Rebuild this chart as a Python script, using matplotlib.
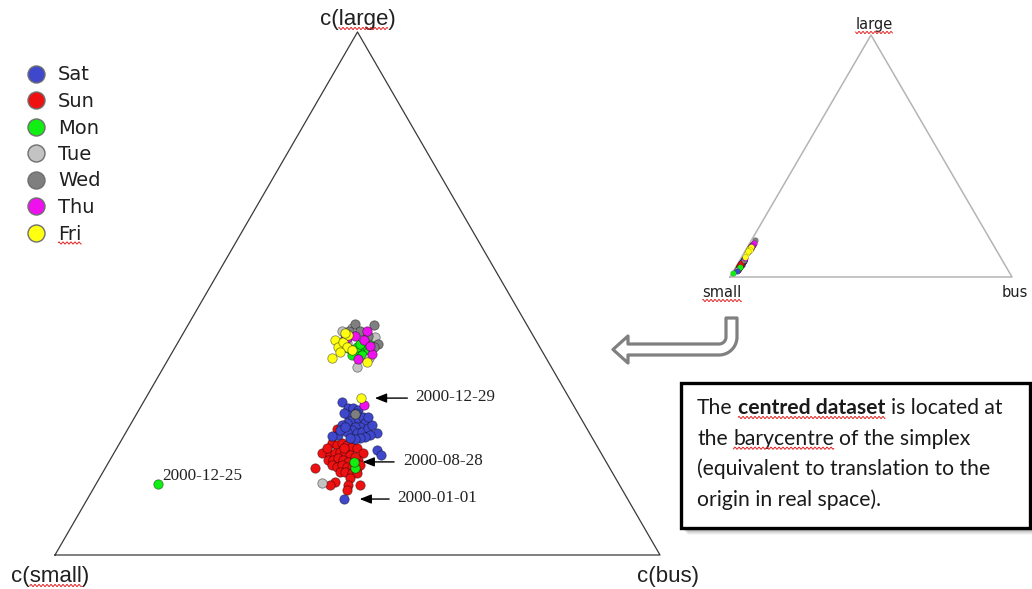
import numpy as np
import matplotlib
matplotlib.use("Agg")
import matplotlib.pyplot as plt
from matplotlib.patches import Rectangle, PathPatch, FancyArrowPatch
from matplotlib.path import Path
from matplotlib.font_manager import FontProperties

# ---------------------------------------------------------------
# Centred daily compositions (small, bus, large), in percent
# ---------------------------------------------------------------
days = ["Sat", "Sun", "Mon", "Tue", "Wed", "Thu", "Fri"]
day_colors = ["#3f48cc", "#ee1111", "#11ee11", "#c3c3c3", "#7f7f7f", "#ee11ee", "#ffff11"]

sat = [(37.9, 32.8, 29.3), (37.5, 34.4, 28.1), (36.7, 35.2, 28.1), (36.1, 36.2, 27.7),
       (38.2, 35.0, 26.8), (38.0, 36.2, 25.8), (39.1, 35.6, 25.2), (40.1, 35.0, 24.9),
       (36.8, 37.0, 26.2), (35.9, 37.7, 26.4), (36.1, 38.6, 25.2), (37.4, 38.2, 24.5),
       (38.2, 37.3, 24.5), (39.0, 37.1, 23.9), (40.0, 36.5, 23.5), (38.4, 38.3, 23.3),
       (37.5, 39.0, 23.5), (36.1, 39.6, 24.3), (35.2, 40.0, 24.8), (35.1, 41.6, 23.3),
       (36.5, 40.6, 22.9), (37.5, 40.0, 22.5), (41.8, 35.3, 22.9), (42.8, 34.4, 22.8),
       (40.9, 35.2, 23.9), (39.8, 35.7, 24.5), (38.4, 39.2, 22.4), (39.3, 38.5, 22.2),
       (40.1, 37.6, 22.4), (35.1, 38.5, 26.4), (36.7, 43.2, 20.1), (36.6, 44.3, 19.1),
       (38.7, 34.2, 27.1), (36.7, 36.2, 27.1)]

sun = [(43.5, 35.1, 21.4), (42.9, 36.1, 21.0), (41.9, 36.7, 21.4), (41.2, 37.7, 21.0),
       (40.6, 38.8, 20.6), (39.9, 39.7, 20.5), (39.3, 41.2, 19.5), (46.1, 34.4, 19.5),
       (45.0, 35.9, 19.1), (44.0, 36.5, 19.5), (43.0, 37.3, 19.7), (42.3, 38.2, 19.5),
       (41.7, 39.2, 19.1), (45.8, 36.0, 18.2), (45.0, 36.9, 18.2), (43.9, 37.5, 18.6),
       (43.3, 38.5, 18.2), (42.7, 39.5, 17.8), (40.8, 41.0, 18.2), (45.6, 37.2, 17.2),
       (45.0, 38.2, 16.8), (44.0, 38.8, 17.2), (43.3, 39.8, 16.8), (42.5, 40.7, 16.8),
       (41.8, 41.6, 16.6), (41.0, 41.8, 17.2), (48.7, 34.7, 16.6), (45.0, 39.2, 15.9),
       (44.1, 40.0, 15.9), (43.1, 41.3, 15.7), (42.2, 42.1, 15.7), (43.9, 41.4, 14.7),
       (46.7, 39.3, 14.0), (47.9, 38.8, 13.4), (44.9, 41.7, 13.4), (42.9, 43.7, 13.4),
       (45.5, 42.0, 12.4), (41.3, 34.6, 24.1), (44.8, 34.7, 20.5), (41.0, 40.2, 18.7),
       (42.0, 37.5, 20.5)]

mon = [(31.8, 28.6, 39.6), (31.1, 29.7, 39.2), (30.5, 30.7, 38.8), (29.3, 31.1, 39.6),
       (28.6, 31.7, 39.8), (30.2, 30.0, 39.8), (28.9, 32.3, 38.8), (30.1, 31.6, 38.3),
       (31.8, 29.9, 38.3), (28.4, 30.9, 40.7), (27.4, 32.1, 40.5), (29.4, 30.2, 40.3),
       (42.1, 41.3, 16.7)]

tue = [(29.2, 27.4, 43.4), (32.1, 32.0, 35.9), (26.3, 32.1, 41.7), (31.1, 26.0, 42.8),
       (28.4, 29.9, 41.7), (29.3, 33.1, 37.7), (31.5, 28.0, 40.5), (49.0, 37.3, 13.8)]

wed = [(28.3, 27.5, 44.2), (25.3, 30.7, 44.0), (26.4, 33.2, 40.3), (27.4, 32.8, 39.8),
       (28.2, 29.0, 42.8), (30.0, 27.2, 42.8), (27.3, 30.8, 41.9), (31.3, 27.2, 41.5),
       (36.9, 36.1, 27.0)]

thu = [(31.0, 27.5, 41.5), (27.0, 30.2, 42.8), (31.2, 31.3, 37.5), (28.4, 33.2, 38.4),
       (28.4, 30.5, 41.1), (29.5, 28.7, 41.9), (28.0, 32.1, 40.0), (34.6, 36.7, 28.7)]

fri = [(33.2, 25.7, 41.1), (33.3, 26.9, 39.8), (32.0, 27.2, 40.7), (30.5, 27.4, 42.1),
       (35.4, 27.0, 37.7), (31.9, 28.4, 39.8), (31.3, 29.5, 39.2), (30.8, 26.7, 42.5),
       (30.0, 33.1, 36.9), (33.5, 27.7, 38.8)]

# Individually labelled days
marked_dates = ["2000-12-29", "2000-08-28", "2000-01-01", "2000-12-25"]
marked_days = ["Fri", "Mon", "Sat", "Mon"]
marked_comp = [(34.4, 35.6, 30.0), (41.7, 40.5, 17.8), (46.9, 42.4, 10.7), (76.2, 10.2, 13.6)]

# Centre of the raw data (small, bus, large), percent
raw_centre = [89.4, 1.3, 9.3]

# ---------------------------------------------------------------
def closure(a):
    a = np.asarray(a, dtype=float)
    return a / a.sum(axis=-1, keepdims=True)


def tern_xy(comp, origin, width, height):
    c = closure(comp)
    b, l = c[..., 1], c[..., 2]
    return origin[0] + width * (b + l / 2.0), origin[1] - height * l


MAIN = dict(origin=(55, 555), width=605, height=523)
INSET = dict(origin=(730, 277), width=282, height=242)

groups = dict(zip(days, [sat, sun, mon, tue, wed, thu, fri]))
color_of = dict(zip(days, day_colors))

fig = plt.figure(figsize=(10.32, 5.89), dpi=100)
ax = fig.add_axes([0, 0, 1, 1])
ax.set_xlim(0, 1032)
ax.set_ylim(589, 0)
ax.axis("off")
renderer = fig.canvas.get_renderer()

sans = "Liberation Sans"
vertices = np.eye(3)
edge_dark = (0, 0, 0, 0.45)


def text_w(s, fp):
    w, h, d = renderer.get_text_width_height_descent(s, fp, ismath=False)
    return w


def squiggle(x0, x1, y):
    xs = np.linspace(x0, x1, max(int((x1 - x0) * 3), 2))
    ys = y + 1.0 * np.sin(xs * np.pi / 2.0)
    ax.plot(xs, ys, color="#e02020", lw=0.7, solid_capstyle="butt", zorder=6)


def label_with_squiggle(x, y, prefix, word, suffix, fp, ha="center"):
    full = prefix + word + suffix
    ax.text(x, y, full, fontproperties=fp, ha=ha, va="baseline", color="#202020", zorder=6)
    wf = text_w(full, fp)
    left = x - wf / 2 if ha == "center" else x
    x0 = left + (text_w(prefix, fp) if prefix else 0)
    squiggle(x0, x0 + text_w(word, fp), y + 3.5)


# ---------------- main (centred) ternary ----------------
tx, ty = tern_xy(vertices, **MAIN)
ax.plot(np.r_[tx, tx[0]], np.r_[ty, ty[0]], color="#3a3a3a", lw=0.9, zorder=2)

fp_axis = FontProperties(family=sans, size=16)
label_with_squiggle(tx[2], 25, "c(", "large", ")", fp_axis)
label_with_squiggle(tx[0] - 5, 582, "c(", "small", ")", fp_axis)
ax.text(tx[1] + 8, 582, "c(bus)", fontproperties=fp_axis, ha="center", va="baseline", color="#202020")

main_size = 46
for d in ["Sun", "Sat", "Mon", "Tue", "Wed", "Thu", "Fri"]:
    px, py = tern_xy(groups[d], **MAIN)
    ax.scatter(px, py, s=main_size, c=color_of[d], edgecolors=edge_dark, linewidths=0.6, zorder=4)

mx, my = tern_xy(marked_comp, **MAIN)
for i, d in enumerate(marked_days):
    ax.scatter(mx[i], my[i], s=main_size, c=color_of[d], edgecolors=edge_dark, linewidths=0.6, zorder=5)

fp_date = FontProperties(family="Liberation Serif", size=12.3)
# (arrow tip offset, arrow tail offset, text offset) in pixels from each mark
arrow_offsets = {"2000-12-29": (11, 49, 54), "2000-08-28": (6, 43, 49), "2000-01-01": (13, 48, 53)}
for i, date in enumerate(marked_dates):
    if date in arrow_offsets:
        tip, tail, toff = arrow_offsets[date]
        arr = FancyArrowPatch((mx[i] + tail, my[i]), (mx[i] + tip, my[i]),
                              arrowstyle="-|>,head_length=0.7,head_width=0.28",
                              mutation_scale=10, lw=1.0, color="black", zorder=6)
        ax.add_patch(arr)
        ax.text(mx[i] + toff, my[i] - 1, date, fontproperties=fp_date, ha="left", va="center",
                color="#222222", zorder=6)
    else:
        ax.text(mx[i] + 4, my[i] - 8, date, fontproperties=fp_date, ha="left", va="center",
                color="#222222", zorder=6)

# ---------------- legend ----------------
fp_leg = FontProperties(family="DejaVu Sans", size=14)
for i, d in enumerate(days):
    yy = 73.5 + 26.5 * i
    ax.scatter([36], [yy], s=150, c=color_of[d], edgecolors="#6f6f6f", linewidths=1.0, zorder=5)
    if d == "Fri":
        label_with_squiggle(58, yy + 7, "", d, "", fp_leg, ha="left")
    else:
        ax.text(58, yy + 7, d, fontproperties=fp_leg, ha="left", va="baseline", color="#202020")

# ---------------- inset (raw) ternary ----------------
ix, iy = tern_xy(vertices, **INSET)
ax.plot(np.r_[ix, ix[0]], np.r_[iy, iy[0]], color="#b4b4b4", lw=1.1, zorder=2)
fp_small = FontProperties(family="DejaVu Sans", size=10.5)
label_with_squiggle(ix[2] + 3, 29, "", "large", "", fp_small)
label_with_squiggle(ix[0] - 8, 297, "", "small", "", fp_small)
ax.text(ix[1] + 3, 297, "bus", fontproperties=fp_small, ha="center", va="baseline", color="#202020")

centre = np.asarray(raw_centre, dtype=float)
inset_size = 17
for d in days:
    raw = closure(np.asarray(groups[d], dtype=float) * centre)
    px, py = tern_xy(raw, **INSET)
    ax.scatter(px, py, s=inset_size, c=color_of[d], edgecolors=(0, 0, 0, 0.35), linewidths=0.3, zorder=4)
for i, d in enumerate(marked_days):
    raw = closure(np.asarray(marked_comp[i], dtype=float) * centre)
    px, py = tern_xy(raw, **INSET)
    ax.scatter(px, py, s=inset_size, c=color_of[d], edgecolors=(0, 0, 0, 0.35), linewidths=0.3, zorder=4)

# ---------------- hollow bent arrow ----------------
t_out = np.linspace(0, np.pi / 2, 20)
t_in = np.linspace(np.pi / 2, 0, 12)
cx, cy = 719, 337
pts = [(726, 318), (737, 318), (737, cy)]
pts += list(zip(cx + 18 * np.cos(t_out), cy + 18 * np.sin(t_out)))
pts += [(628, 355), (628, 363), (613, 349.5), (628, 336), (628, 344)]
pts += list(zip(cx + 7 * np.cos(t_in), cy + 7 * np.sin(t_in)))
pts += [(726, 318)]
bent = Path(pts, closed=True)
ax.add_patch(PathPatch(bent, facecolor="white", edgecolor="#808080", lw=2.3, joinstyle="round", zorder=3))

# ---------------- text box ----------------
bx, by, bw, bh = 681, 383, 349, 145
for k, a in zip(range(2, 8), [0.10, 0.09, 0.08, 0.06, 0.05, 0.03]):
    ax.add_patch(Rectangle((bx + k, by + k), bw, bh, facecolor="black", edgecolor="none", alpha=a, zorder=2))
ax.add_patch(Rectangle((bx, by), bw, bh, facecolor="white", edgecolor="black", lw=2.4, zorder=3))

fn10 = FontProperties(family="Lato", size=10)
fb10 = FontProperties(family="Lato", size=10, weight="bold")
space10 = text_w("x x", fn10) - text_w("xx", fn10)
w10 = text_w("The", fn10) + text_w("centred dataset", fb10) + text_w("is located at", fn10) + 2 * space10
fsz = 10 * 306 / w10
fn = FontProperties(family="Lato", size=fsz)
fb = FontProperties(family="Lato", size=fsz, weight="bold")
space = text_w("x x", fn) - text_w("xx", fn)

lines = [
    [("The", fn, False), ("centred dataset", fb, True), ("is located at", fn, False)],
    [("the", fn, False), ("barycentre", fn, True), ("of the simplex", fn, False)],
    [("(equivalent to translation to the", fn, False)],
    [("origin in real space).", fn, False)],
]
x_start = 697
for li, pieces in enumerate(lines):
    yb = 414 + 30.7 * li
    x = x_start
    for s, fp, wavy in pieces:
        ax.text(x, yb, s, fontproperties=fp, ha="left", va="baseline", color="#1a1a1a", zorder=5)
        w = text_w(s, fp)
        if wavy:
            squiggle(x, x + w, yb + 3.5)
        x += w + space

fig.savefig("out.png", dpi=100)
